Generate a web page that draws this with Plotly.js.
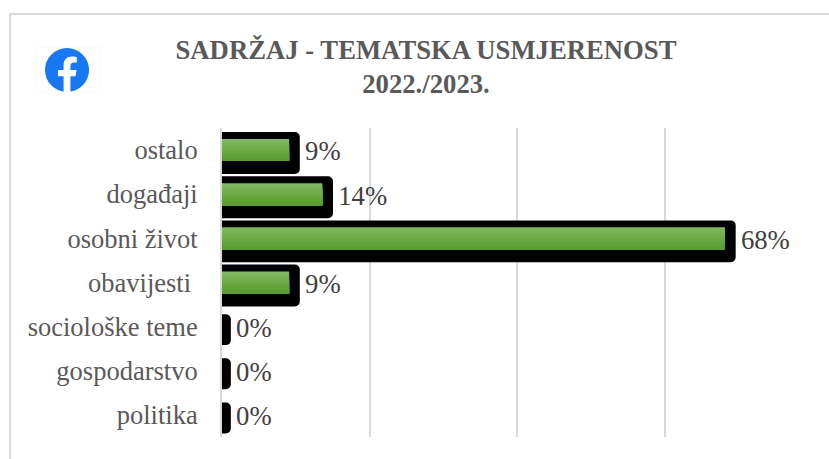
<!DOCTYPE html>
<html><head><meta charset="utf-8">
<script src="https://cdn.plot.ly/plotly-3.0.1.min.js"></script>
<style>html,body{margin:0;padding:0;background:#fff}#c{width:829px;height:459px}</style>
</head><body><div id="c"></div>
<script>
const categories = ['politika','gospodarstvo','sociološke teme','obavijesti\u00a0','osobni život','događaji','ostalo'];
const values = [0,0,0,9.1,68.2,13.6,9.1];
const labels = ['0%','0%','0%','9%','68%','14%','9%'];
const tickVals = [0,20,40,60,80];
const bandColors = ['#81b963','#7db65d','#78b357','#74b051','#70ad4b','#6cab45','#68a840','#64a53b','#60a236','#5d9f32','#5a9c2f'];

const serif = 'Liberation Serif, Times New Roman, serif';
const grey = '#595959';
const pad = v => v > 0 ? v + 1.45 : 1.2;
const blackW = values.map(v => v > 0 ? 0.95 : 0.70);
const traces = [{
  type:'bar', orientation:'h', y:categories, x:values.map(pad),
  width:blackW, offset:blackW.map(w => -w/2 - 0.068),
  marker:{color:'#000', cornerradius:5, line:{width:0}},
  hoverinfo:'skip', showlegend:false
},{
  type:'bar', orientation:'h', y:categories, x:values.map(pad),
  width:blackW, offset:blackW.map(w => -w/2 - 0.03),
  marker:{color:'rgba(0,0,0,0)', line:{width:0}},
  text:labels.map(t => '\u200a' + t), textposition:'outside', cliponaxis:false, constraintext:'none',
  textfont:{family:serif,size:26.7,color:'#404040'}, hoverinfo:'skip', showlegend:false
}];
const greenH = 22/44.14, bandH = 2/44.14;
bandColors.forEach((col,i) => {
  traces.push({
    type:'bar', orientation:'h', y:categories, x:values,
    width:greenH - i*bandH, offset:-greenH/2,
    marker:{color:col, line:{width:0}}, hoverinfo:'skip', showlegend:false
  });
});
const fb = 'data:image/svg+xml;utf8,' + encodeURIComponent(
 '<svg xmlns="http://www.w3.org/2000/svg" viewBox="0 0 36 36"><circle cx="18" cy="18" r="18" fill="#1877F2"/><path fill="#fff" d="M25 23.2l.8-5.2h-5v-3.4c0-1.4.7-2.8 2.9-2.8H26V7.400c0 0-2-.4-4-.4-4.100 0-6.800 2.500-6.800 7v4H10.600v5.200h4.600V36h5.600V23.200z"/></svg>');
const W=829,H=459,PW=590,PH=309,L=222,B=437;
const px = x => (x-L)/PW, py = y => (B-y)/PH;
const layout = {
  width:W, height:H, margin:{l:L,r:W-L-PW,t:128,b:H-B,pad:0},
  paper_bgcolor:'#fff', plot_bgcolor:'#fff', barmode:'overlay', showlegend:false,
  title:{text:'<b>SADRŽAJ - TEMATSKA USMJERENOST<br>2022./2023.</b>', font:{family:serif,size:26.7,color:grey},
    x:426/W, xanchor:'center', y:1-58.5/H, yanchor:'middle'},
  xaxis:{range:[0,80], tickvals:tickVals, showticklabels:false, showgrid:true, gridcolor:'#d9d9d9', gridwidth:2, zeroline:false, ticks:'', showline:false},
  yaxis:{type:'category', categoryorder:'array', categoryarray:categories, range:[-0.5,6.5], showgrid:false, zeroline:false,
    showline:true, linecolor:'#d9d9d9', linewidth:2, ticks:'outside', ticklen:17, tickcolor:'rgba(0,0,0,0)',
    tickfont:{family:serif,size:26.5,color:grey}},
  shapes:[
    {type:'rect',xref:'paper',yref:'paper',x0:px(10),x1:px(840),y0:py(480),y1:py(14),line:{color:'#d9d9d9',width:2},fillcolor:'rgba(0,0,0,0)',layer:'below'},
    {type:'rect',xref:'paper',yref:'paper',x0:px(35.5),x1:px(101),y0:py(92),y1:py(47),line:{color:'#fafafa',width:1},fillcolor:'rgba(0,0,0,0)',layer:'below'}
  ],
  images:[{source:fb,xref:'paper',yref:'paper',x:px(45),y:py(48),sizex:44/PW,sizey:44/PH,xanchor:'left',yanchor:'top',sizing:'stretch',layer:'above'}]
};
Plotly.newPlot('c',traces,layout,{displayModeBar:false,staticPlot:true});
</script></body></html>
